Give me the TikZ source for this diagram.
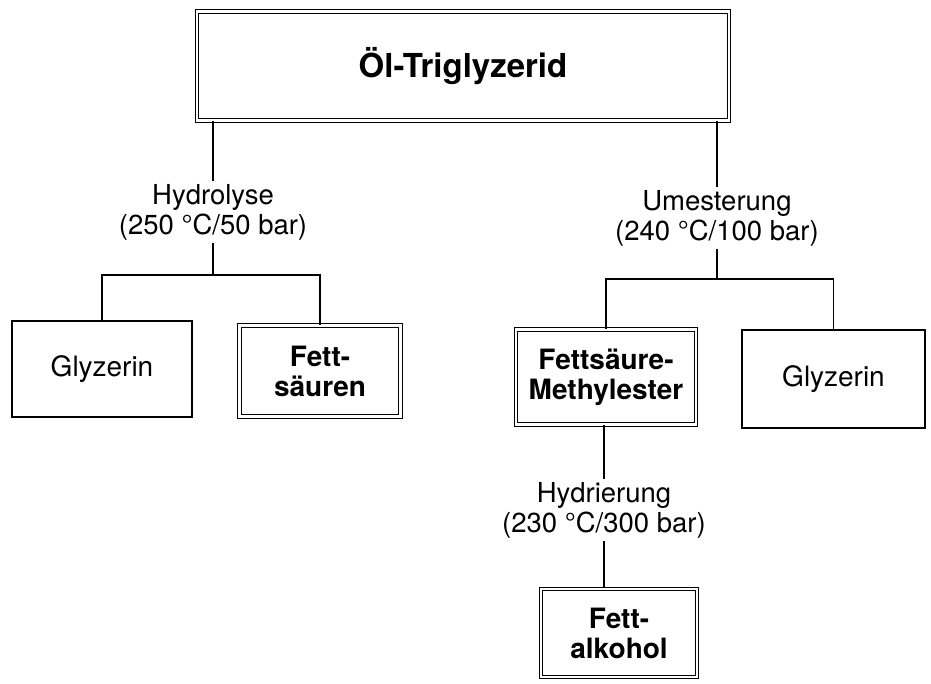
\documentclass[tikz,border=0pt]{standalone}
\usepackage{fontspec}
\setmainfont{TeX Gyre Heros}
\begin{document}
\begin{tikzpicture}[x=1pt,y=-1pt,
  plainbox/.style={draw,line width=1.3pt,inner sep=0pt,align=center,font=\fontsize{28}{30}\selectfont},
  dblbox/.style={draw,double,double distance=2.2pt,line width=1.1pt,inner sep=0pt,align=center,font=\fontsize{28}{30}\selectfont\bfseries},
  lab/.style={inner sep=3pt,align=center,font=\fontsize{27.5}{30}\selectfont},
  conn/.style={line width=1.5pt}]
\useasboundingbox (0,0) rectangle (931,684);
% boxes
\node[dblbox,minimum width=532pt,minimum height=109pt,font=\fontsize{33}{36}\selectfont\bfseries] (top) at (463,66) {Öl-Triglyzerid};
\node[plainbox,minimum width=180pt,minimum height=96pt] (gl) at (102,369) {Glyzerin};
\node[dblbox,minimum width=161pt,minimum height=91pt] (fs) at (320,371) {Fett-\\säuren};
\node[dblbox,minimum width=180pt,minimum height=95pt] (fme) at (606,377) {Fettsäure-\\Methylester};
\node[plainbox,minimum width=183pt,minimum height=98pt] (gr) at (833.5,379) {Glyzerin};
\node[dblbox,minimum width=156pt,minimum height=88pt] (fa) at (619,633) {Fett-\\alkohol};
% labels
\node[lab] (hl) at (213,212) {Hydrolyse\\(250 °C/50 bar)};
\node[lab] (ul) at (717,218) {Umesterung\\(240 °C/100 bar)};
\node[lab] (hr) at (604,510) {Hydrierung\\(230 °C/300 bar)};
% bar coordinates
\coordinate (lbar) at (213,275);
\coordinate (rbar) at (717,279);
\coordinate (hx) at (604,0);
% connectors
\draw[conn] (top.south -| hl) -- (hl.north);
\draw[conn] (hl.south) -- (lbar);
\draw[conn] (gl.north) -- (gl.north |- lbar) -- (fs.north |- lbar) -- (fs.north);
\draw[conn] (top.south -| ul) -- (ul.north);
\draw[conn] (ul.south) -- (rbar);
\draw[conn] (fme.north) -- (fme.north |- rbar) -- (gr.north |- rbar) -- (gr.north);
\draw[conn] (fme.south -| hx) -- (hr.north -| hx);
\draw[conn] (hr.south -| hx) -- (fa.north -| hx);
\end{tikzpicture}
\end{document}
